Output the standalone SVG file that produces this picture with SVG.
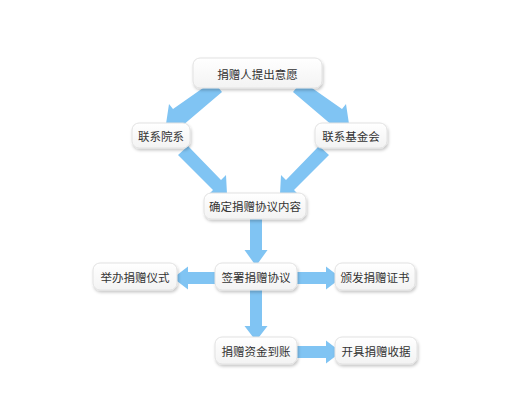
<svg xmlns="http://www.w3.org/2000/svg" width="510" height="400" viewBox="0 0 510 400">
<defs>
<linearGradient id="bg" x1="0" y1="0" x2="0" y2="1">
<stop offset="0" stop-color="#ffffff"/>
<stop offset="1" stop-color="#f3f3f3"/>
</linearGradient>
<filter id="sh" x="-20%" y="-30%" width="140%" height="170%">
<feDropShadow dx="1" dy="2" stdDeviation="1.6" flood-color="#000" flood-opacity="0.22"/>
</filter>
<path id="arw" d="M0,-5.5 H-14 V-11.5 L0,0 L-14,11.5 V5.5 Z"/>
</defs>
<style>
.box{fill:url(#bg);stroke:#e2e2e2;stroke-width:1;filter:url(#sh)}
.t{font-family:"Noto Sans CJK SC","Noto Sans",sans-serif;font-size:11.5px;fill:#333;text-anchor:middle;dominant-baseline:central}
.a{fill:#80c4f3}
</style>
<rect width="510" height="400" fill="#ffffff"/>
<g id="connectors">
<path class="a" d="M213,85 L222,96 L182,130 L186,135 L166,128 L169,108 L173,113 Z" transform="translate(0,-4)"/>
<path class="a" d="M302,81 L293,92 L333,126 L329,131 L349,124 L346,104 L342,109 Z"/>
<path class="a" d="M188,146 L178,155 L213,190 L208,195 L227,194 L226,175 L221,180 Z"/>
<path class="a" d="M319,146 L329,155 L294,190 L299,195 L280,194 L281,175 L286,180 Z"/>
<path class="a" d="M250,219 H262 V250 H267.5 L256,266 L244.5,250 H250 Z"/>
<path class="a" d="M250,290 H262 V326 H267.5 L256,341 L244.5,326 H250 Z"/>
<path class="a" d="M215,272 V284 H188 V289.5 L173,278 L188,266.5 V272 Z"/>
<path class="a" d="M297,272 V284 H326 V289.5 L341,278 L326,266.5 V272 Z"/>
<path class="a" d="M297,346 V358 H326 V363.5 L341,352 L326,340.5 V346 Z"/>
</g>
<g id="n1"><rect class="box" x="193" y="58" width="129" height="30" rx="7"/><text class="t" x="257.5" y="74">捐赠人提出意愿</text></g>
<g id="n2"><rect class="box" x="132" y="123" width="58" height="25" rx="7"/><text class="t" x="161" y="136">联系院系</text></g>
<g id="n3"><rect class="box" x="315" y="123" width="72" height="25" rx="7"/><text class="t" x="351" y="136">联系基金会</text></g>
<g id="n4"><rect class="box" x="204" y="193" width="102" height="26" rx="7"/><text class="t" x="255" y="206">确定捐赠协议内容</text></g>
<g id="n5"><rect class="box" x="93" y="263" width="84" height="27" rx="7"/><text class="t" x="135" y="277">举办捐赠仪式</text></g>
<g id="n6"><rect class="box" x="215" y="263" width="82" height="27" rx="7"/><text class="t" x="256" y="277">签署捐赠协议</text></g>
<g id="n7"><rect class="box" x="335" y="263" width="80" height="27" rx="7"/><text class="t" x="375" y="277">颁发捐赠证书</text></g>
<g id="n8"><rect class="box" x="215" y="337" width="82" height="27" rx="7"/><text class="t" x="256" y="351">捐赠资金到账</text></g>
<g id="n9"><rect class="box" x="335" y="337" width="82" height="27" rx="7"/><text class="t" x="376" y="351">开具捐赠收据</text></g>
</svg>
